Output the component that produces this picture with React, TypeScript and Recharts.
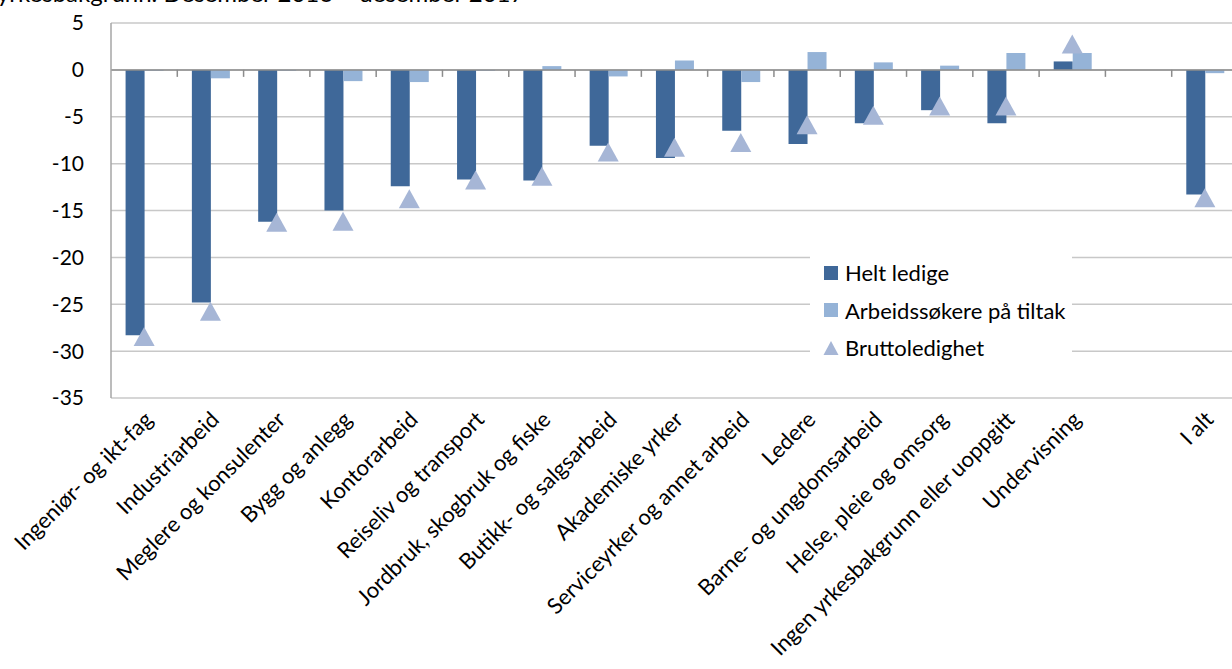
import React from "react"
import {
  ComposedChart,
  Bar,
  Scatter,
  XAxis,
  YAxis,
  CartesianGrid,
  ReferenceLine,
  Legend,
} from "recharts"

// Endring i ledighet etter yrkesbakgrunn, des 2016 - des 2017
const kategorier = [
  "Ingeniør- og ikt-fag",
  "Industriarbeid",
  "Meglere og konsulenter",
  "Bygg og anlegg",
  "Kontorarbeid",
  "Reiseliv og transport",
  "Jordbruk, skogbruk og fiske",
  "Butikk- og salgsarbeid",
  "Akademiske yrker",
  "Serviceyrker og annet arbeid",
  "Ledere",
  "Barne- og ungdomsarbeid",
  "Helse, pleie og omsorg",
  "Ingen yrkesbakgrunn eller uoppgitt",
  "Undervisning",
  "",
  "I alt",
]

const heltLedige = [-28.3, -24.8, -16.2, -15.0, -12.4, -11.7, -11.8, -8.1, -9.4, -6.5, -7.9, -5.7, -4.3, -5.7, 0.9, null, -13.3]
const tiltak = [-0.1, -0.9, -0.1, -1.2, -1.3, -0.1, 0.4, -0.7, 1.0, -1.3, 1.9, 0.8, 0.45, 1.8, 1.8, null, -0.35]
const brutto = [-28.5, -25.8, -16.3, -16.2, -13.8, -11.8, -11.4, -8.8, -8.3, -7.8, -5.9, -4.9, -3.9, -3.9, 2.7, null, -13.7]

const yTicks = [5, 0, -5, -10, -15, -20, -25, -30, -35]

const serieNavn = ["Helt ledige", "Arbeidssøkere på tiltak", "Bruttoledighet"]

const MORK = "#3f6899"
const LYS = "#95b3d7"
const TREKANT = "#a6b6d6"
const FONT = "Lato, 'Open Sans', sans-serif"

const data = kategorier.map((navn, i) => ({
  navn,
  helt: heltLedige[i],
  tiltak: tiltak[i],
  brutto: brutto[i],
}))

function Trekant(props: any) {
  const { cx, cy } = props
  if (cx == null || cy == null || props.payload?.brutto == null) return null
  return (
    <polygon
      points={`${cx},${cy - 10} ${cx + 10.5},${cy + 9} ${cx - 10.5},${cy + 9}`}
      fill={TREKANT}
    />
  )
}

function XTick(props: any) {
  const { x, y, payload } = props
  const ax = x + 10
  const ay = y + 15
  return (
    <text
      x={ax}
      y={ay}
      transform={`rotate(-45 ${ax} ${ay})`}
      textAnchor="end"
      fontSize={22}
      fontFamily={FONT}
      fill="#000"
    >
      {payload.value}
    </text>
  )
}

// nullinje med små tikkmerker mellom kategoriene
function NullLinje(props: any) {
  const { x1, x2, y1 } = props
  const n = kategorier.length
  const w = (x2 - x1) / n
  const ticks = []
  for (let i = 1; i < n; i++) {
    ticks.push(<line key={i} x1={x1 + i * w} x2={x1 + i * w} y1={y1} y2={y1 + 7} stroke="#8c8c8c" strokeWidth={1.5} />)
  }
  return (
    <g>
      <line x1={x1} x2={x2} y1={y1} y2={y1} stroke="#8c8c8c" strokeWidth={1.5} />
      {ticks}
    </g>
  )
}

function LegendInnhold() {
  const ikon = (i: number) => {
    if (i === 2)
      return (
        <svg width={16} height={16} style={{ marginRight: 6 }}>
          <polygon points="8,1 15.5,15 0.5,15" fill={TREKANT} />
        </svg>
      )
    return (
      <svg width={16} height={16} style={{ marginRight: 6 }}>
        <rect x={1} y={1} width={14} height={14} fill={i === 0 ? MORK : LYS} />
      </svg>
    )
  }
  return (
    <div
      style={{
        background: "#fff",
        width: 262,
        height: 132,
        padding: "14px 0 0 13px",
        boxSizing: "border-box",
        fontFamily: FONT,
        fontSize: 22,
        color: "#000",
      }}
    >
      {serieNavn.map((s, i) => (
        <div key={s} style={{ display: "flex", alignItems: "center", height: 37.5 }}>
          {ikon(i)}
          <span>{s}</span>
        </div>
      ))}
    </div>
  )
}

export default function App() {
  return (
    <div
      style={{
        position: "fixed",
        left: 0,
        top: 0,
        width: 1232,
        height: 669,
        overflow: "hidden",
        background: "#fff",
      }}
    >
      <div
        style={{
          position: "absolute",
          left: -3,
          top: -22,
          fontFamily: FONT,
          fontSize: 24,
          whiteSpace: "nowrap",
          color: "#000",
        }}
      >
        yrkesbakgrunn. Desember 2016 – desember 2017
      </div>
      <ComposedChart
        width={1250}
        height={669}
        data={data}
        margin={{ top: 23, right: 12, bottom: 0, left: 0 }}
        barCategoryGap="22%"
        barGap={0}
      >
        <CartesianGrid vertical={false} stroke="#c8c8c8" strokeWidth={1.5} />
        <XAxis
          dataKey="navn"
          height={271}
          axisLine={false}
          tickLine={false}
          interval={0}
          tick={<XTick />}
        />
        <YAxis
          width={111}
          domain={[-35, 5]}
          ticks={yTicks}
          interval={0}
          axisLine={{ stroke: "#a6a6a6", strokeWidth: 1.5 }}
          tickLine={false}
          tickMargin={21}
          tick={{ fontSize: 21, fontFamily: FONT, fill: "#000" }}
        />
        <ReferenceLine y={0} shape={<NullLinje />} />
        <Bar dataKey="helt" name={serieNavn[0]} fill={MORK} isAnimationActive={false} />
        <Bar dataKey="tiltak" name={serieNavn[1]} fill={LYS} isAnimationActive={false} />
        <Scatter dataKey="brutto" name={serieNavn[2]} shape={<Trekant />} isAnimationActive={false} />
        <Legend
          layout="vertical"
          align="center"
          verticalAlign="middle"
          content={<LegendInnhold />}
          wrapperStyle={{ position: "absolute", left: 810, top: 240, width: 262 }}
        />
      </ComposedChart>
    </div>
  )
}
